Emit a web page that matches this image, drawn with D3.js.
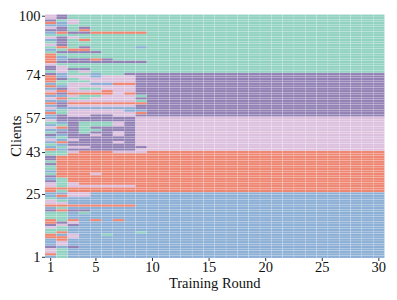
<!DOCTYPE html>
<html>
<head>
<meta charset="utf-8">
<script src="https://cdn.jsdelivr.net/npm/d3@7"></script>
<style>
  body { margin: 0; background: #fff; }
  text { font-family: "Liberation Serif", "Times New Roman", serif; }
</style>
</head>
<body>
<div id="container"></div>
<script>
/* CONSTANTS AND GLOBALS */
const width = 397,
  height = 300,
  margin = { top: 14.5, bottom: 42, left: 45, right: 12.5 };

// DATA: cluster of every client in every round, one string per client (top row = client 100)
// T teal, P purple, K pink, S salmon, B blue
const assignments = [
  "KPTTTTTTTTTTTTTTTTTTTTTTTTTTTT", // 100
  "KPTTTTTTTTTTTTTTTTTTTTTTTTTTTT",
  "PTKTTTTTTTTTTTTTTTTTTTTTTTTTTT",
  "SBKTTTTTTTTTTTTTTTTTTTTTTTTTTT",
  "BBTTTTTTTTTTTTTTTTTTTTTTTTTTTT",
  "KPTPTTTTTTTTTTTTTTTTTTTTTTTTTT", // 95
  "PPTSTTTTTTTTTTTTTTTTTTTTTTTTTT",
  "BSPPSSSSSTTTTTTTTTTTTTTTTTTTTT",
  "TTTTTTTTTTTTTTTTTTTTTTTTTTTTTT",
  "KPKTTTTTTTTTTTTTTTTTTTTTTTTTTT",
  "BPTSTTTTTTTTTTTTTTTTTTTTTTTTTT", // 90
  "TPTTTTTTTTTTTTTTTTTTTTTTTTTTTT",
  "KPTTTTTTTTTTTTTTTTTTTTTTTTTTTT",
  "TSTPTTTTBTTTTTTTTTTTTTTTTTTTTT",
  "BTSSTTTTTTTTTTTTTTTTTTTTTTTTTT",
  "TPPPPTTTTTTTTTTTTTTTTTTTTTTTTT", // 85
  "STTTTTTTTTTTTTTTTTTTTTTTTTTTTT",
  "SBTTTTTTTTTTTTTTTTTTTTTTTTTTTT",
  "SBPPSPTTTTTTTTTTTTTTTTTTTTTTTT",
  "SPPPPPPPPTTTTTTTTTTTTTTTTTTTTT",
  "KTTTTTTTTTTTTTTTTTTTTTTTTTTTTT", // 80
  "PKTTTTTTTTTTTTTTTTTTTTTTTTTTTT",
  "PKPPTTTTTTTTTTTTTTTTTTTTTTTTTT",
  "TKTKTTTTTTTTTTTTTTTTTTTTTTTTTT",
  "PBTTBTTPPPPPPPPPPPPPPPPPPPPPPP", // 76
  "SBKKBKKKPPPPPPPPPPPPPPPPPPPPPP", // 75
  "SPTKKKKKPPPPPPPPPPPPPPPPPPPPPP",
  "STTTKKKKPPPPPPPPPPPPPPPPPPPPPP",
  "BTKKBBSSPPPPPPPPPPPPPPPPPPPPPP",
  "SBKKKKKKPPPPPPPPPPPPPPPPPPPPPP",
  "BPKTTKKKPPPPPPPPPPPPPPPPPPPPPP", // 70
  "KSKKKSKKPPPPPPPPPPPPPPPPPPPPPP",
  "SPSSSSKSPPPPPPPPPPPPPPPPPPPPPP",
  "BBKTTKKKTPPPPPPPPPPPPPPPPPPPPP",
  "KSTTKKKKPPPPPPPPPPPPPPPPPPPPPP",
  "BBKKKKKKTPPPPPPPPPPPPPPPPPPPPP", // 65
  "SPSSSSSSSPPPPPPPPPPPPPPPPPPPPP",
  "BPKKKKKKPPPPPPPPPPPPPPPPPPPPPP",
  "KBBBBBBBPPPPPPPPPPPPPPPPPPPPPP",
  "BTKKKKKBBPPPPPPPPPPPPPPPPPPPPP",
  "STKKKKKKSPPPPPPPPPPPPPPPPPPPPP", // 60
  "BPKKPPKKPPPPPPPPPPPPPPPPPPPPPP",
  "BPPPPPPPKKKKKKKKKKKKKKKKKKKKKK", // 58
  "KPPPPPPPKKKKKKKKKKKKKKKKKKKKKK",
  "TBPTTTKPKKKKKKKKKKKKKKKKKKKKKK",
  "BTPTTTKPKKKKKKKKKKKKKKKKKKKKKK", // 55
  "KSPTPPPPKKKKKKKKKKKKKKKKKKKKKK",
  "BBPTTPPPKKKKKKKKKKKKKKKKKKKKKK",
  "TPPTPPKPKKKKKKKKKKKKKKKKKKKKKK",
  "PBPPKPKPKKKKKKKKKKKKKKKKKKKKKK",
  "BTPPPPPPKKKKKKKKKKKKKKKKKKKKKK", // 50
  "KBKPPPPPKKKKKKKKKKKKKKKKKKKKKK",
  "BSPPPPKPKKKKKKKKKKKKKKKKKKKKKK",
  "TBPPPPPPKKKKKKKKKKKKKKKKKKKKKK",
  "BTKKPPPPPKKKKKKKKKKKKKKKKKKKKK",
  "SBPPPPPPKKKKKKKKKKKKKKKKKKKKKK", // 45
  "TTKSSSKKKSSSSSSSSSSSSSSSSSSSSS", // 44
  "TTSSSSSSSSSSSSSSSSSSSSSSSSSSSS",
  "PSSSSSSSSSSSSSSSSSSSSSSSSSSSSS",
  "PSSSSSSSSSSSSSSSSSSSSSSSSSSSSS",
  "TSSSSSSSSSSSSSSSSSSSSSSSSSSSSS", // 40
  "PSSSSSSSSSSSSSSSSSSSSSSSSSSSSS",
  "TSSSSSSSSSSSSSSSSSSSSSSSSSSSSS",
  "TSSSSSSSSSSSSSSSSSSSSSSSSSSSSS",
  "BSSSSSSSSSSSSSSSSSSSSSSSSSSSSS",
  "TSSSKSSSSSSSSSSSSSSSSSSSSSSSSS", // 35
  "PSSSSSSSSSSSSSSSSSSSSSSSSSSSSS",
  "BTSSSSSSSSSSSSSSSSSSSSSSSSSSSS",
  "PTSSSSSSSSSSSSSSSSSSSSSSSSSSSS",
  "KTKSSSSSSSSSSSSSSSSSSSSSSSSSSS",
  "KTKKKKKKSSSSSSSSSSSSSSSSSSSSSS", // 30
  "SSSSSSSSSSSSSSSSSSSSSSSSSSSSSS",
  "STSSSSSSSSSSSSSSSSSSSSSSSSSSSS",
  "BBKKBBBBBBBBBBBBBBBBBBBBBBBBBB", // 27
  "BSKKBBBBBBBBBBBBBBBBBBBBBBBBBB",
  "TBBBBBBBBBBBBBBBBBBBBBBBBBBBBB", // 25
  "KTBBBBBBBBBBBBBBBBBBBBBBBBBBBB",
  "KKBBBBBBBBBBBBBBBBBBBBBBBBBBBB",
  "SSSSSSSSBBBBBBBBBBBBBBBBBBBBBB",
  "BTBBBBBBBBBBBBBBBBBBBBBBBBBBBB",
  "PSPPBBBBBBBBBBBBBBBBBBBBBBBBBB", // 20
  "TTBTBBBBBBBBBBBBBBBBBBBBBBBBBB",
  "TTBBBBBBBBBBBBBBBBBBBBBBBBBBBB",
  "TTBBBBBBBBBBBBBBBBBBBBBBBBBBBB",
  "STSBSBSBBBBBBBBBBBBBBBBBBBBBBB",
  "SPKBBBBBBBBBBBBBBBBBBBBBBBBBBB", // 15
  "PKPBBBBBBBBBBBBBBBBBBBBBBBBBBB",
  "KTBBBBBBBBBBBBBBBBBBBBBBBBBBBB",
  "TTBBBBBBBBBBBBBBBBBBBBBBBBBBBB",
  "TSBBBBBBTBBBBBBBBBBBBBBBBBBBBB",
  "SBKBBTBBBBBBBBBBBBBBBBBBBBBBBB", // 10
  "SSKBBBBBBBBBBBBBBBBBBBBBBBBBBB",
  "BSBBBBBBBBBBBBBBBBBBBBBBBBBBBB",
  "BKBBBBBBBBBBBBBBBBBBBBBBBBBBBB",
  "BKBBBBBBBBBBBBBBBBBBBBBBBBBBBB",
  "PBPBBBBBBBBBBBBBBBBBBBBBBBBBBB", // 5
  "KTBBBBBBBBBBBBBBBBBBBBBBBBBBBB",
  "KTBBBBBBBBBBBBBBBBBBBBBBBBBBBB",
  "STBBBBBBBBBBBBBBBBBBBBBBBBBBBB",
  "BTBBBBBBBBBBBBBBBBBBBBBBBBBBBB"  // 1
];

const clients = d3.range(1, 101);
const rounds = d3.range(1, 31);
const clusterKeys = ["T", "P", "K", "S", "B"];
const clusterColors = ["#91d2c1", "#9281b4", "#dcc0de", "#ee8672", "#8cafd6"];

const xTickValues = [1, 5, 10, 15, 20, 25, 30];
// y ticks sit on the cluster borders, labels as printed
const yTickPositions = [1, 26.8, 44, 58, 75.6, 100];
const yTickLabels = ["1", "25", "43", "57", "74", "100"];

// FLATTEN CELLS
const cells = [];
assignments.forEach((row, i) => {
  const client = 100 - i;
  rounds.forEach(r => cells.push({ client, round: r, cluster: row[r - 1] }));
});

// APPEND SVG
const svg = d3.select("#container")
  .append("svg")
  .attr("width", width)
  .attr("height", height);

// SCALES
const xScale = d3.scaleBand()
  .domain(rounds)
  .range([margin.left, width - margin.right]);

const yScale = d3.scaleBand()
  .domain(clients)
  .range([height - margin.bottom, margin.top]);

const yAxisScale = d3.scaleLinear()
  .domain([0.5, 100.5])
  .range([height - margin.bottom, margin.top]);

const colorScale = d3.scaleOrdinal()
  .domain(clusterKeys)
  .range(clusterColors);

// HEATMAP CELLS
svg.selectAll("rect.cell")
  .data(cells)
  .join("rect")
  .attr("class", "cell")
  .attr("x", d => xScale(d.round))
  .attr("y", d => yScale(d.client))
  .attr("width", xScale.bandwidth())
  .attr("height", yScale.bandwidth())
  .attr("fill", d => colorScale(d.cluster))
  .attr("stroke", "#fff")
  .attr("stroke-width", 0.4)
  .attr("stroke-opacity", 0.32);

// AXES
const xAxis = svg.append("g")
  .attr("transform", `translate(0, ${height - margin.bottom})`)
  .call(d3.axisBottom(xScale).tickValues(xTickValues).tickSize(3).tickPadding(1));

const yAxis = svg.append("g")
  .attr("transform", `translate(${margin.left}, 0)`)
  .call(d3.axisLeft(yAxisScale)
    .tickValues(yTickPositions)
    .tickFormat((d, i) => yTickLabels[i])
    .tickSize(3)
    .tickPadding(1.5));

[xAxis, yAxis].forEach(g => {
  g.select(".domain").remove();
  g.selectAll("text")
    .attr("fill", "#111")
    .style("font-size", "14.5px")
    .style("font-family", "'Liberation Serif', serif");
  g.selectAll("line").attr("stroke", "#333");
});

// AXIS TITLES
svg.append("text")
  .attr("x", (margin.left + width - margin.right) / 2)
  .attr("y", 287.5)
  .attr("text-anchor", "middle")
  .attr("fill", "#111")
  .style("font-size", "14.5px")
  .text("Training Round");

svg.append("text")
  .attr("transform", `translate(20.5, ${(margin.top + height - margin.bottom) / 2}) rotate(-90)`)
  .attr("text-anchor", "middle")
  .attr("fill", "#111")
  .style("font-size", "14.5px")
  .text("Clients");
</script>
</body>
</html>
